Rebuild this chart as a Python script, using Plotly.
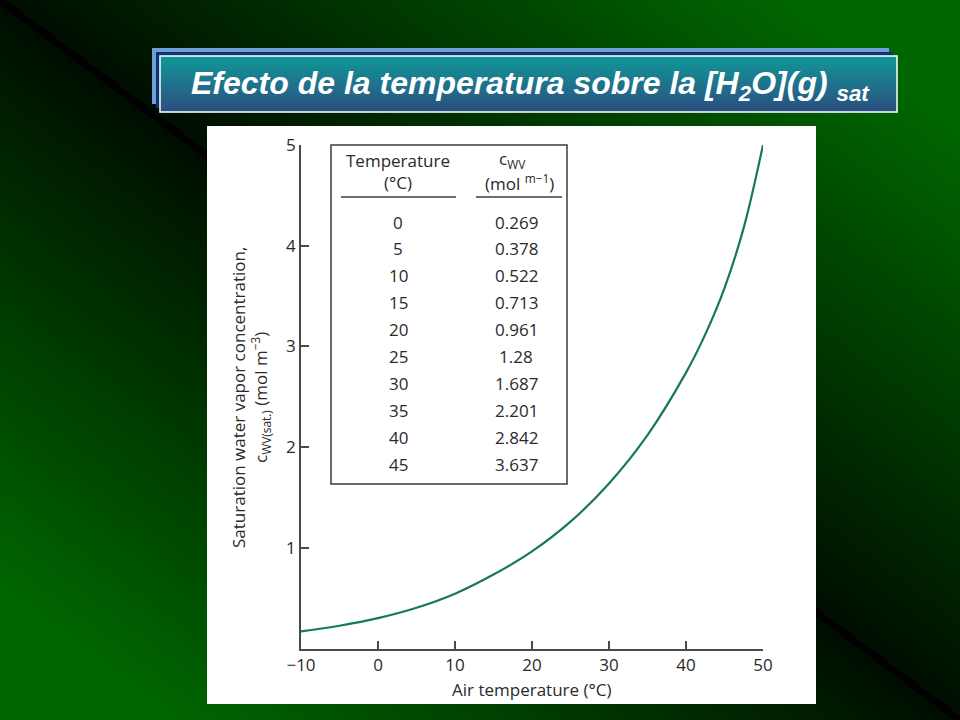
import plotly.graph_objects as go

# ---- data ----
table_temp = [0, 5, 10, 15, 20, 25, 30, 35, 40, 45]
table_cwv = ["0.269", "0.378", "0.522", "0.713", "0.961", "1.28", "1.687", "2.201", "2.842", "3.637"]

curve_temp = [-10, -5, 0, 5, 10, 15, 20, 25, 30, 35, 40, 42.5, 45, 47.5, 50]
curve_cwv = [0.17, 0.227, 0.302, 0.405, 0.545, 0.735, 0.965, 1.26, 1.64, 2.12, 2.74, 3.12, 3.58, 4.18, 5.0]

x_ticks = [-10, 0, 10, 20, 30, 40, 50]
x_ticktext = ["\u221210", "0", "10", "20", "30", "40", "50"]
y_ticks = [1, 2, 3, 4, 5]

W, H = 960, 720
def px(x):
    return x / W
def py(y):
    return 1 - y / H

FONT = "Open Sans"
AX = "#4a4a4a"
TXT = "#2a2a2a"

fig = go.Figure()
fig.add_trace(go.Scatter(
    x=curve_temp, y=curve_cwv, mode="lines",
    line=dict(color="#17785f", width=2.2, shape="spline", smoothing=1.0),
    hoverinfo="skip", showlegend=False))

shapes = []
# diagonal gradient background
N = 120
for i in range(N):
    c1 = 2.0 * i / N
    c2 = 2.0 * (i + 1) / N + 0.004
    t = abs((c1 + c2) / 2 - 1)
    g = int(min(102, 14 + 108 * t))
    path = f"M {c1+1},-1 L {c2+1},-1 L {c2-2},2 L {c1-2},2 Z"
    shapes.append(dict(type="path", path=path, xref="paper", yref="paper",
                       fillcolor=f"rgb(0,{g},0)", line=dict(width=0), layer="below"))
# black diagonal line
shapes.append(dict(type="line", xref="paper", yref="paper", x0=-0.02, y0=1.02, x1=1.02, y1=-0.02,
                   line=dict(color="rgba(0,0,0,0.9)", width=7), layer="below"))

# title boxes
shapes.append(dict(type="rect", xref="paper", yref="paper", x0=px(152), x1=px(889), y0=py(104), y1=py(48),
                   fillcolor="#6f9fd6", line=dict(width=0), layer="below"))
shapes.append(dict(type="rect", xref="paper", yref="paper", x0=px(156), x1=px(893), y0=py(108), y1=py(52),
                   fillcolor="#0b3472", line=dict(width=0), layer="below"))
top = (17, 153, 152)
bot = (44, 78, 128)
M = 28
for i in range(M):
    f = (i + 0.5) / M
    col = tuple(int(top[k] + (bot[k] - top[k]) * f) for k in range(3))
    y0 = 56 + (112 - 56) * i / M
    y1 = 56 + (112 - 56) * (i + 1) / M + 0.6
    shapes.append(dict(type="rect", xref="paper", yref="paper", x0=px(160), x1=px(897),
                       y0=py(y1), y1=py(y0), fillcolor=f"rgb{col}", line=dict(width=0), layer="below"))
shapes.append(dict(type="rect", xref="paper", yref="paper", x0=px(160), x1=px(897), y0=py(112), y1=py(56),
                   fillcolor="rgba(0,0,0,0)", line=dict(color="white", width=1.5), layer="below"))

# white panel
shapes.append(dict(type="rect", xref="paper", yref="paper", x0=px(207), x1=px(816), y0=py(704), y1=py(126),
                   fillcolor="white", line=dict(width=0), layer="below"))

# table box and header rules
shapes.append(dict(type="rect", xref="paper", yref="paper", x0=px(331), x1=px(567), y0=py(484), y1=py(145),
                   fillcolor="white", line=dict(color="#3c3c3c", width=1.5), layer="below"))
shapes.append(dict(type="line", xref="paper", yref="paper", x0=px(341), x1=px(456), y0=py(197), y1=py(197),
                   line=dict(color="#3c3c3c", width=1.5)))
shapes.append(dict(type="line", xref="paper", yref="paper", x0=px(476), x1=px(562), y0=py(197), y1=py(197),
                   line=dict(color="#3c3c3c", width=1.5)))

annotations = []
# title
annotations.append(dict(xref="paper", yref="paper", x=px(530), y=py(85), showarrow=False,
                        text="<b><i>Efecto de la temperatura sobre la [H<sub>2</sub>O](g) <sub>sat</sub></i></b>",
                        font=dict(family="Liberation Sans, Arial", size=32, color="white"),
                        xanchor="center", yanchor="middle"))
# table header
tf = dict(family=FONT, size=17, color=TXT)
annotations.append(dict(xref="paper", yref="paper", x=px(398), y=py(160), text="Temperature",
                        showarrow=False, font=tf, xanchor="center", yanchor="middle"))
annotations.append(dict(xref="paper", yref="paper", x=px(398), y=py(182), text="(\u00b0C)",
                        showarrow=False, font=tf, xanchor="center", yanchor="middle"))
annotations.append(dict(xref="paper", yref="paper", x=px(512), y=py(159), text="c<sub>WV</sub>",
                        showarrow=False, font=tf, xanchor="center", yanchor="middle"))
annotations.append(dict(xref="paper", yref="paper", x=px(519), y=py(182), text="(mol <sup>m\u22121</sup>)",
                        showarrow=False, font=tf, xanchor="center", yanchor="middle"))
for i, (t, v) in enumerate(zip(table_temp, table_cwv)):
    yy = 222 + i * 26.9
    annotations.append(dict(xref="paper", yref="paper", x=px(398), y=py(yy), text=str(t),
                            showarrow=False, font=tf, xanchor="center", yanchor="middle"))
    annotations.append(dict(xref="paper", yref="paper", x=px(516), y=py(yy), text=v,
                            showarrow=False, font=tf, xanchor="center", yanchor="middle"))

# axis titles
annotations.append(dict(xref="paper", yref="paper", x=px(532), y=py(689), text="Air temperature (\u00b0C)",
                        showarrow=False, font=tf, xanchor="center", yanchor="middle"))
annotations.append(dict(xref="paper", yref="paper", x=px(250), y=py(398),
                        text="Saturation water vapor concentration,<br>c<sub>WV(sat.)</sub> (mol m<sup>\u22123</sup>)",
                        showarrow=False, font=tf, textangle=-90, xanchor="center", yanchor="middle"))

fig.update_layout(
    width=W, height=H,
    autosize=False,
    margin=dict(l=0, r=0, t=0, b=0, pad=0, autoexpand=False),
    paper_bgcolor="black",
    plot_bgcolor="white",
    shapes=shapes,
    annotations=annotations,
    showlegend=False,
    xaxis=dict(domain=[px(301), px(763)], range=[-10, 50], tickvals=x_ticks, ticktext=x_ticktext,
               showgrid=False, zeroline=False, showline=True, linecolor=AX, linewidth=1.6,
               ticks="inside", ticklen=8, tickwidth=1.5, tickcolor=AX, automargin=False,
               tickfont=dict(family=FONT, size=17, color=TXT), fixedrange=True),
    yaxis=dict(domain=[py(648.6), py(145)], range=[0, 5], tickvals=y_ticks,
               showgrid=False, zeroline=False, showline=True, linecolor=AX, linewidth=1.6,
               ticks="inside", ticklen=8, tickwidth=1.5, tickcolor=AX, automargin=False,
               tickfont=dict(family=FONT, size=17, color=TXT), fixedrange=True),
)

fig.write_html("out.html", config={"responsive": False, "displayModeBar": False},
               post_script="document.body.style.margin='0px';document.body.style.overflow='hidden';")
